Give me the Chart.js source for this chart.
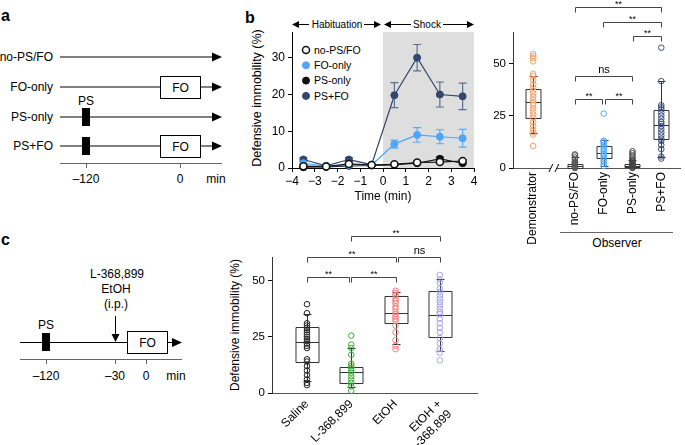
<!DOCTYPE html>
<html lang="en">
<head>
<meta charset="UTF-8">
<title>Defensive immobility</title>
<script src="https://cdn.jsdelivr.net/npm/chart.js"></script>
<style>
  body { margin: 0; width: 685px; height: 445px; position: relative; overflow: hidden; background: #fff; }
  svg, canvas { position: absolute; }
</style>
</head>
<body>
<svg width="685" height="445" style="left:0;top:0" font-family="Liberation Sans, Arial, sans-serif" font-size="12" fill="#000">
  <!-- panel a : schematic -->
  <text x="1" y="21" font-size="16" font-weight="bold">a</text>
  <g text-anchor="end">
    <text x="53" y="61">no-PS/FO</text>
    <text x="53" y="91">FO-only</text>
    <text x="53" y="121">PS-only</text>
    <text x="53" y="150">PS+FO</text>
  </g>
  <g stroke="#000" stroke-width="1">
    <line x1="60" y1="57" x2="214" y2="57"/>
    <line x1="60" y1="87" x2="214" y2="87"/>
    <line x1="60" y1="117" x2="214" y2="117"/>
    <line x1="60" y1="146" x2="214" y2="146"/>
  </g>
  <g>
    <polygon points="212,52.5 222,57 212,61.5"/>
    <polygon points="212,82.5 222,87 212,91.5"/>
    <polygon points="212,112.5 222,117 212,121.5"/>
    <polygon points="212,141.5 222,146 212,150.5"/>
  </g>
  <rect x="160.5" y="76.5" width="40" height="22" fill="#fff" stroke="#000"/>
  <rect x="160.5" y="135.5" width="40" height="22" fill="#fff" stroke="#000"/>
  <text x="180.5" y="92" text-anchor="middle">FO</text>
  <text x="180.5" y="151" text-anchor="middle">FO</text>
  <rect x="82" y="108" width="8" height="18"/>
  <rect x="82" y="137" width="8" height="18"/>
  <text x="86" y="105" text-anchor="middle">PS</text>
  <g stroke="#666" stroke-width="1">
    <line x1="60" y1="163.5" x2="222" y2="163.5"/>
    <line x1="86.5" y1="163.5" x2="86.5" y2="168"/>
    <line x1="180.5" y1="163.5" x2="180.5" y2="168"/>
  </g>
  <g text-anchor="middle">
    <text x="86" y="183">–120</text>
    <text x="180" y="183">0</text>
    <text x="216" y="183">min</text>
  </g>

  <!-- panel b : header arrows, axis title, legend -->
  <text x="245" y="23" font-size="16" font-weight="bold">b</text>
  <g stroke="#000" stroke-width="1">
    <line x1="296" y1="24.5" x2="309" y2="24.5"/>
    <line x1="364" y1="24.5" x2="377" y2="24.5"/>
    <line x1="388" y1="24.5" x2="411" y2="24.5"/>
    <line x1="443" y1="24.5" x2="469" y2="24.5"/>
  </g>
  <polygon points="292,24.5 299,21 299,28"/>
  <polygon points="381,24.5 374,21 374,28"/>
  <polygon points="384,24.5 391,21 391,28"/>
  <polygon points="474,24.5 467,21 467,28"/>
  <text x="337" y="28" font-size="10" text-anchor="middle">Habituation</text>
  <text x="427" y="28" font-size="10" text-anchor="middle">Shock</text>
  <text transform="translate(260.5,98) rotate(-90)" font-size="12.5" text-anchor="middle">Defensive immobility (%)</text>
  <g id="legend"></g>
  <line x1="560" y1="232.5" x2="673" y2="232.5" stroke="#666"/>
  <text x="617" y="247" text-anchor="middle">Observer</text>

  <!-- panel c : schematic -->
  <text x="1" y="245" font-size="16" font-weight="bold">c</text>
  <text x="117" y="278" text-anchor="middle">L-368,899</text>
  <text x="116" y="293" text-anchor="middle">EtOH</text>
  <text x="116" y="308" text-anchor="middle">(i.p.)</text>
  <line x1="115.5" y1="316" x2="115.5" y2="336" stroke="#000"/>
  <polygon points="111.5,334 119.5,334 115.5,342"/>
  <line x1="20" y1="342.5" x2="174" y2="342.5" stroke="#000"/>
  <polygon points="172,338 182,342.5 172,347"/>
  <rect x="42" y="333" width="8" height="18"/>
  <text x="46" y="329" text-anchor="middle">PS</text>
  <rect x="127.5" y="331.5" width="40" height="22" fill="#fff" stroke="#000"/>
  <text x="147.5" y="347" text-anchor="middle">FO</text>
  <g stroke="#666" stroke-width="1">
    <line x1="20" y1="359.5" x2="182" y2="359.5"/>
    <line x1="46.5" y1="359.5" x2="46.5" y2="364"/>
    <line x1="115.5" y1="359.5" x2="115.5" y2="364"/>
    <line x1="146.5" y1="359.5" x2="146.5" y2="364"/>
  </g>
  <g text-anchor="middle">
    <text x="46" y="380">–120</text>
    <text x="115" y="380">–30</text>
    <text x="146" y="380">0</text>
    <text x="176" y="380">min</text>
  </g>
  <text transform="translate(238.5,325) rotate(-90)" text-anchor="middle">Defensive immobility (%)</text>
</svg>

<canvas id="timeChart" width="245" height="190" style="left:235px;top:20px"></canvas>
<canvas id="obsChart" width="207" height="250" style="left:478px;top:0px"></canvas>
<canvas id="drugChart" width="260" height="220" style="left:225px;top:225px"></canvas>

<script>
// ---- panel b, time course (mean ± s.e.m.) ----
const timePoints = [-3.5, -2.5, -1.5, -0.5, 0.5, 1.5, 2.5, 3.5];
const timeTicks = [-4, -3, -2, -1, 0, 1, 2, 3, 4];
const noPsFo = [0.5, 0.4, 1.1, 0.8, 1.0, 1.5, 1.6, 1.9];
const foOnly = [1.3, 0.5, 0.8, 0.8, 6.5, 9.0, 8.5, 8.1];
const psOnly = [0.2, 0.3, 0.6, 0.7, 0.9, 1.3, 2.5, 1.3];
const psFo = [2.3, 0.6, 2.3, 0.9, 19.8, 30.0, 20.0, 19.5];
const noPsFoSem = [0.2, 0.2, 0.3, 0.2, 0.2, 0.3, 0.3, 0.3];
const foOnlySem = [0.4, 0.2, 0.3, 0.2, 1.1, 2.0, 1.9, 2.4];
const psOnlySem = [0.1, 0.1, 0.2, 0.2, 0.2, 0.3, 0.5, 0.3];
const psFoSem = [0.5, 0.3, 0.5, 0.3, 3.4, 3.6, 3.4, 3.6];

// ---- panel b, individual animals ----
const obsLabels = ['Demonstrator', 'no-PS/FO', 'FO-only', 'PS-only', 'PS+FO'];
const demoPts = [10.5, 16, 17, 18.5, 20, 22, 24, 25.5, 27, 28.5, 30, 31, 32.5, 34, 35.5, 37, 38.5, 40, 42, 44, 45, 51, 52.5, 53.5, 54.5];
const noPsFoPts = [0, 0.3, 0.6, 1, 1.5, 2, 2.5, 3, 4, 5, 6, 6.5];
const foOnlyPts = [1, 2, 3, 4, 5, 6, 6.5, 7, 8, 9, 10, 11, 12, 12.5, 13, 26];
const psOnlyPts = [0, 0.3, 0.7, 1, 1.5, 2, 2.5, 3, 3.5, 4, 5, 6, 7, 8];
const psFoPts = [4.5, 5.5, 9, 11, 13, 14, 15.5, 17, 18.5, 20, 21, 22, 23.5, 25, 26.5, 28, 29, 30, 41.5, 57.5];
// [whisker low, q1, median, q3, whisker high]
const demoBox = [16.6, 23.7, 31.7, 37.7, 43.9];
const noPsFoBox = [0, 0, 1, 2, 5.4];
const foOnlyBox = [1.1, 4.6, 7.3, 10.6, 13.4];
const psOnlyBox = [0, 0.3, 1, 1.8, 4];
const psFoBox = [5.4, 13.7, 20.4, 27.5, 41.4];

// ---- panel c ----
const drugLabels = ['Saline', 'L-368,899', 'EtOH', ['EtOH +', 'L-368,899']];
const salinePts = [3.5, 4.5, 6, 8, 10, 12, 14, 15, 20, 21, 22, 23, 24, 25, 26, 27, 28, 29, 30, 31, 35.5, 39.5];
const antagPts = [1, 3, 4.5, 6, 7.5, 9, 10, 11, 12, 13, 17, 20, 21.5, 25.5];
const etohPts = [19.5, 21, 23.5, 27, 30, 32, 33, 34, 35, 36, 37.5, 38.5, 40, 41, 42, 43.5, 44.5, 45.5];
const etohAntagPts = [14.5, 18, 19.5, 22, 24.5, 27, 29, 31, 33, 35, 36, 37.5, 39, 40.5, 42, 43.5, 45, 46.5, 49, 50.5, 52.5];
const salineBox = [5.5, 13.9, 22.8, 29.5, 35];
const antagBox = [2.8, 4.3, 9.5, 11.4, 20.2];
const etohBox = [21.7, 31, 35.4, 43, 44.8];
const etohAntagBox = [18.8, 24.7, 34.7, 45.4, 50.7];

// significance brackets: [from, to, level, text]
const obsBrackets = [[1.45, 4.45, 77, '**'], [2.42, 4.45, 69.7, '**'], [3.48, 4.45, 63.3, '**'],
                     [1.45, 3.45, 44, 'ns'], [1.45, 2.40, 33, '**'], [2.50, 3.45, 33, '**']];
const drugBrackets = [[1, 3, 70, '**'], [0, 2, 60.6, '**'], [2.05, 3, 60.6, 'ns'],
                      [0, 0.94, 51.5, '**'], [1, 2, 51.5, '**']];

// slot positions along the category axes
const obsSlots = [0, 1.45, 2.45, 3.45, 4.45];
const drugSlots = [0, 1, 2, 3];

Chart.defaults.font.family = "'Liberation Sans', Arial, sans-serif";
Chart.defaults.font.size = 12;
Chart.defaults.color = '#000';
Chart.defaults.animation = false;
Chart.defaults.plugins.legend.display = false;
Chart.defaults.plugins.tooltip.enabled = false;

const minus = v => (v < 0 ? '\u2212' + Math.abs(v) : String(v));
const fixTicks = vals => scale => { scale.ticks = vals.map(v => ({ value: v })); };
const fixWidth = w => scale => { scale.width = w; };
const fixHeight = h => scale => { scale.height = h; };
const tickGrid = { display: true, drawOnChartArea: false, drawTicks: true, tickLength: 4, color: '#000' };
const noGrid = { display: false, drawTicks: false, tickLength: 0 };

// ---------- time course ----------
const lineSeries = [
  { label: 'no-PS/FO', data: noPsFo, err: noPsFoSem, color: '#111', fill: '#fff', errColor: '#333' },
  { label: 'FO-only', data: foOnly, err: foOnlySem, color: '#4fa6f7', fill: '#4fa6f7', errColor: '#5aacf6' },
  { label: 'PS-only', data: psOnly, err: psOnlySem, color: '#111', fill: '#111', errColor: '#333' },
  { label: 'PS+FO', data: psFo, err: psFoSem, color: '#33466d', fill: '#33466d', errColor: '#5b6d92' }
];

const shockPlugin = {
  id: 'shock',
  beforeDatasetsDraw(chart) {
    const { ctx, chartArea, scales: { x, y } } = chart;
    ctx.save();
    ctx.fillStyle = '#dedede';
    const x0 = x.getPixelForValue(0), x1 = x.getPixelForValue(4);
    ctx.fillRect(x0, chartArea.top, x1 - x0, y.getPixelForValue(0) - chartArea.top);
    // error bars
    lineSeries.forEach(s => {
      ctx.strokeStyle = s.errColor;
      ctx.lineWidth = 1.2;
      s.data.forEach((m, i) => {
        if (!s.err[i]) return;
        const px = x.getPixelForValue(timePoints[i]);
        const lo = y.getPixelForValue(m - s.err[i]), hi = y.getPixelForValue(m + s.err[i]);
        ctx.beginPath();
        ctx.moveTo(px, lo); ctx.lineTo(px, hi);
        ctx.moveTo(px - 4, lo); ctx.lineTo(px + 4, lo);
        ctx.moveTo(px - 4, hi); ctx.lineTo(px + 4, hi);
        ctx.stroke();
      });
    });
    ctx.restore();
  }
};

new Chart(document.getElementById('timeChart'), {
  type: 'line',
  data: {
    datasets: lineSeries.map(s => ({
      label: s.label,
      data: timePoints.map((t, i) => ({ x: t, y: s.data[i] })),
      borderColor: s.color,
      backgroundColor: s.fill,
      pointBorderColor: s.color,
      pointBackgroundColor: s.fill,
      pointRadius: 3.5,
      pointBorderWidth: s.fill === '#fff' ? 1.5 : 1,
      borderWidth: 1.2,
      clip: false
    }))
  },
  options: {
    responsive: false,
    devicePixelRatio: 1,
    layout: { padding: { top: 12, right: 6, left: 0, bottom: 0 } },
    scales: {
      x: {
        type: 'linear', min: -4, max: 4,
        afterBuildTicks: fixTicks(timeTicks),
        afterFit: fixHeight(42),
        grid: tickGrid,
        border: { color: '#000' },
        ticks: { callback: v => minus(v), padding: 2, maxRotation: 0 },
        title: { display: true, text: 'Time (min)', padding: { top: 0, bottom: 6 } }
      },
      y: {
        min: 0, max: 37,
        afterBuildTicks: fixTicks([0, 10, 20, 30]),
        afterFit: fixWidth(57),
        grid: tickGrid,
        border: { color: '#000' },
        ticks: { padding: 3 }
      }
    }
  },
  plugins: [shockPlugin]
});

// legend of the time course
const legend = document.getElementById('legend');
lineSeries.forEach((s, i) => {
  const cy = 50 + i * 15.3;
  legend.insertAdjacentHTML('beforeend',
    `<circle cx="306" cy="${cy}" r="3.5" fill="${s.fill}" stroke="${s.color}" stroke-width="${s.fill === '#fff' ? 1.5 : 1}"/>` +
    `<text x="314" y="${cy + 3.6}" font-size="10.5">${s.label}</text>`);
});

// ---------- box plots ----------
function boxPlugin(id, slots, stats, halfWidth, brackets, extra) {
  return {
    id,
    beforeDatasetsDraw(chart) {
      const { ctx, scales: { x, y } } = chart;
      ctx.save();
      ctx.strokeStyle = '#333';
      ctx.lineWidth = 1;
      stats.forEach((s, i) => {
        const cx = Math.round(x.getPixelForValue(slots[i])) + 0.5;
        const hw = x.getPixelForValue(slots[i] + halfWidth) - x.getPixelForValue(slots[i]);
        const [lo, q1, med, q3, hi] = s.map(v => Math.round(y.getPixelForValue(v)) + 0.5);
        ctx.beginPath();
        ctx.rect(cx - hw, q3, 2 * hw, q1 - q3);
        ctx.moveTo(cx - hw, med); ctx.lineTo(cx + hw, med);
        ctx.moveTo(cx, q3); ctx.lineTo(cx, hi);
        ctx.moveTo(cx, q1); ctx.lineTo(cx, lo);
        ctx.moveTo(cx - 4, hi); ctx.lineTo(cx + 4, hi);
        ctx.moveTo(cx - 4, lo); ctx.lineTo(cx + 4, lo);
        ctx.stroke();
      });
      ctx.restore();
    },
    afterDraw(chart) {
      const { ctx, scales: { x, y } } = chart;
      ctx.save();
      ctx.strokeStyle = '#444';
      ctx.fillStyle = '#000';
      ctx.lineWidth = 1;
      ctx.textAlign = 'center';
      ctx.textBaseline = 'bottom';
      brackets.forEach(([a, b, level, text]) => {
        const x1 = Math.round(x.getPixelForValue(a)) + 0.5;
        const x2 = Math.round(x.getPixelForValue(b)) + 0.5;
        const yy = Math.round(y.getPixelForValue(level)) + 0.5;
        ctx.beginPath();
        ctx.moveTo(x1, yy + 5); ctx.lineTo(x1, yy); ctx.lineTo(x2, yy); ctx.lineTo(x2, yy + 5);
        ctx.stroke();
        ctx.font = text === 'ns' ? "11px 'Liberation Sans', Arial" : "9px 'Liberation Sans', Arial";
        ctx.fillText(text, (x1 + x2) / 2, text === 'ns' ? yy - 1 : yy + 2);
      });
      if (extra) extra(chart);
      ctx.restore();
    }
  };
}

function scatterSets(groups, slots, colors) {
  return groups.map((pts, i) => ({
    data: pts.map(v => ({ x: slots[i], y: v })),
    borderColor: colors[i],
    backgroundColor: 'rgba(255,255,255,0)',
    pointRadius: 2.8,
    pointBorderWidth: 1,
    showLine: false,
    clip: false
  }));
}

// axis break on the observer chart
function axisBreak(chart) {
  const { ctx, scales: { x, y } } = chart;
  const bx = x.getPixelForValue(0.72), by = y.getPixelForValue(0);
  ctx.fillStyle = '#fff';
  ctx.fillRect(bx - 3, by - 2, 6, 4);
  ctx.strokeStyle = '#000';
  ctx.beginPath();
  ctx.moveTo(bx - 5, by + 4); ctx.lineTo(bx - 1, by - 4);
  ctx.moveTo(bx + 1, by + 4); ctx.lineTo(bx + 5, by - 4);
  ctx.stroke();
}

new Chart(document.getElementById('obsChart'), {
  type: 'scatter',
  data: {
    datasets: scatterSets([demoPts, noPsFoPts, foOnlyPts, psOnlyPts, psFoPts], obsSlots,
      ['#f7a06a', '#555555', '#4fa6f7', '#444444', '#3a4f7a'])
  },
  options: {
    responsive: false,
    devicePixelRatio: 1,
    layout: { padding: { top: 32, right: 2, left: 0, bottom: 0 } },
    scales: {
      x: {
        type: 'linear', min: -0.7, max: 5.1,
        afterBuildTicks: fixTicks(obsSlots),
        afterFit: fixHeight(82),
        grid: noGrid,
        border: { color: '#555' },
        ticks: { callback: (v, i) => obsLabels[i], minRotation: 90, maxRotation: 90, autoSkip: false, padding: 4 }
      },
      y: {
        min: 0, max: 65,
        afterBuildTicks: fixTicks([0, 25, 50]),
        afterFit: fixWidth(35),
        grid: tickGrid,
        border: { color: '#333' },
        ticks: { padding: 3, font: { size: 11.5 } }
      }
    }
  },
  plugins: [boxPlugin('obsBoxes', obsSlots, [demoBox, noPsFoBox, foOnlyBox, psOnlyBox, psFoBox], 0.26, obsBrackets, axisBreak)]
});

new Chart(document.getElementById('drugChart'), {
  type: 'scatter',
  data: {
    datasets: scatterSets([salinePts, antagPts, etohPts, etohAntagPts], drugSlots,
      ['#222222', '#35b035', '#f27c7c', '#a3a3ee'])
  },
  options: {
    responsive: false,
    devicePixelRatio: 1,
    layout: { padding: { top: 32, right: 8, left: 0, bottom: 0 } },
    scales: {
      x: {
        type: 'linear', min: -0.79, max: 3.84,
        afterBuildTicks: fixTicks(drugSlots),
        afterFit: fixHeight(52),
        grid: noGrid,
        border: { color: '#555' },
        ticks: { callback: (v, i) => drugLabels[i], minRotation: 45, maxRotation: 45, autoSkip: false, padding: 4 }
      },
      y: {
        min: 0, max: 60.5,
        afterBuildTicks: fixTicks([0, 25, 50]),
        afterFit: fixWidth(47),
        grid: tickGrid,
        border: { color: '#333' },
        ticks: { padding: 3, font: { size: 11.5 } }
      }
    }
  },
  plugins: [boxPlugin('drugBoxes', drugSlots, [salineBox, antagBox, etohBox, etohAntagBox], 0.26, drugBrackets)]
});
</script>
</body>
</html>
